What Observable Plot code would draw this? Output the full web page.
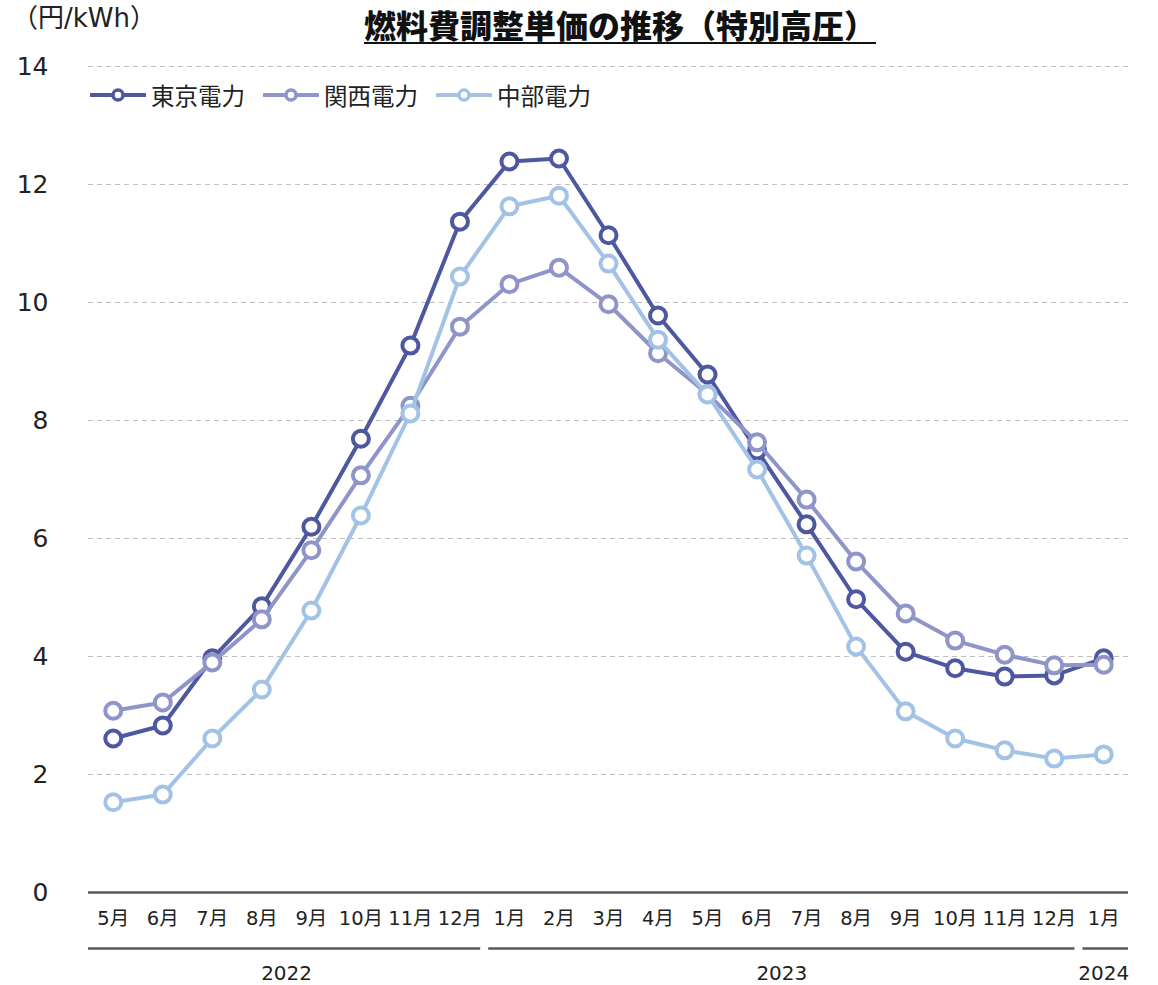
<!DOCTYPE html>
<html lang="ja">
<head>
<meta charset="utf-8">
<script src="https://cdn.jsdelivr.net/npm/d3@7"></script>
<script src="https://cdn.jsdelivr.net/npm/@observablehq/plot@0.6"></script>
<style>
  html, body { margin: 0; padding: 0; background: #fff; }
  #wrap { position: relative; width: 1158px; height: 985px; font-family: "DejaVu Sans", "Noto Sans CJK JP", sans-serif; color: #222; }
  #title { position: absolute; left: 364px; top: 7px; font-family: "Noto Sans CJK JP", sans-serif; font-weight: 900; font-size: 32px; line-height: 1.1; color: #111; text-decoration: underline; text-decoration-thickness: 2px; text-underline-offset: 4px; white-space: nowrap; }
  #unit { position: absolute; left: 12px; top: 3px; font-family: "DejaVu Sans", "Noto Sans CJK JP", sans-serif; font-size: 26px; line-height: 1.2; color: #222; white-space: nowrap; }
  #legend { position: absolute; left: 90px; top: 78px; display: flex; align-items: center; font-family: "Noto Sans CJK JP", sans-serif; font-size: 23.5px; color: #222; }
  .item { display: flex; align-items: center; margin-right: 18px; }
  .item svg { display: block; margin-right: 5px; }
</style>
</head>
<body>
<div id="wrap">
  <div id="chart"></div>
  <div id="unit">（円/kWh）</div>
  <div id="title">燃料費調整単価の推移（特別高圧）</div>
  <div id="legend"></div>
</div>
<script>
// ---- data ----
const months = ["5月","6月","7月","8月","9月","10月","11月","12月","1月","2月","3月","4月","5月","6月","7月","8月","9月","10月","11月","12月","1月"];
const yearLabels = ["2022", "2023", "2024"];
const yearMonthCounts = [8, 12, 1];
const seriesNames = ["東京電力", "関西電力", "中部電力"];
const tokyo  = [2.61, 2.83, 3.97, 4.85, 6.20, 7.69, 9.27, 11.37, 12.39, 12.44, 11.14, 9.78, 8.78, 7.49, 6.24, 4.97, 4.08, 3.80, 3.66, 3.68, 3.97];
const kansai = [3.08, 3.22, 3.90, 4.63, 5.80, 7.07, 8.25, 9.59, 10.31, 10.59, 9.97, 9.14, 8.45, 7.63, 6.66, 5.61, 4.73, 4.27, 4.03, 3.85, 3.86];
const chubu  = [1.53, 1.66, 2.61, 3.44, 4.78, 6.39, 8.12, 10.44, 11.63, 11.81, 10.66, 9.37, 8.44, 7.17, 5.71, 4.17, 3.07, 2.61, 2.41, 2.27, 2.34];
const yTicks = [0, 2, 4, 6, 8, 10, 12, 14];

// ---- styles ----
const colors = ["#4e58a1", "#8f95c9", "#a3c3e6"];
const seriesValues = [tokyo, kansai, chubu];
const FONT = "DejaVu Sans, Noto Sans CJK JP, sans-serif";

const series = seriesValues.map((vals, s) => ({
  name: seriesNames[s],
  color: colors[s],
  points: vals.map((v, i) => ({i, v}))
}));

// year groups
let start = 0;
const years = yearLabels.map((y, k) => {
  const g = {year: y, x1: start - 0.5, x2: start + yearMonthCounts[k] - 0.5, k};
  start += yearMonthCounts[k];
  g.xm = (g.x1 + g.x2) / 2;
  return g;
});

const seriesMarks = series.flatMap(s => [
  Plot.line(s.points, {x: "i", y: "v", stroke: s.color, strokeWidth: 4, curve: "linear"}),
  Plot.dot(s.points, {x: "i", y: "v", r: 8, fill: "white", stroke: s.color, strokeWidth: 4})
]);

const bracketMarks = years.map((g, k) => Plot.ruleY([g], {
  x1: "x1", x2: "x2", y: () => 0, dy: 56,
  stroke: "#595959", strokeWidth: 2.5,
  insetLeft: k === 0 ? 0 : 4, insetRight: k === years.length - 1 ? 0 : 4
}));

const chart = Plot.plot({
  width: 1158,
  height: 985,
  marginTop: 66,
  marginBottom: 93,
  marginLeft: 88,
  marginRight: 30,
  style: {fontFamily: FONT, color: "#222", background: "white"},
  x: {domain: [-0.5, months.length - 0.5]},
  y: {domain: [0, 14]},
  marks: [
    Plot.gridY(yTicks.filter(d => d > 0), {stroke: "#bfbfbf", strokeOpacity: 1, strokeWidth: 1.2, strokeDasharray: "5,4"}),
    Plot.axisY({ticks: yTicks, tickSize: 0, tickPadding: 40, fontSize: 25, fontFamily: FONT, label: null, tickFormat: d => String(d)}),
    Plot.axisX({ticks: d3.range(months.length), tickSize: 0, tickPadding: 19, fontSize: 19.5, fontFamily: FONT, label: null, tickFormat: i => months[i]}),
    Plot.ruleY([0], {stroke: "#595959", strokeWidth: 2.5}),
    ...bracketMarks,
    Plot.text(years, {x: "xm", y: () => 0, dy: 81, text: "year", fontSize: 20, fontFamily: FONT, fill: "#222"}),
    ...seriesMarks
  ]
});
document.getElementById("chart").appendChild(chart);

// legend
const legend = document.getElementById("legend");
series.forEach(s => {
  const item = document.createElement("div");
  item.className = "item";
  item.innerHTML = `<svg width="56" height="20" viewBox="0 0 56 20">
      <line x1="1" y1="10" x2="55" y2="10" stroke="${s.color}" stroke-width="4" stroke-linecap="round"/>
      <circle cx="28" cy="10" r="5" fill="white" stroke="${s.color}" stroke-width="3.5"/>
    </svg><span>${s.name}</span>`;
  legend.appendChild(item);
});
</script>
</body>
</html>
